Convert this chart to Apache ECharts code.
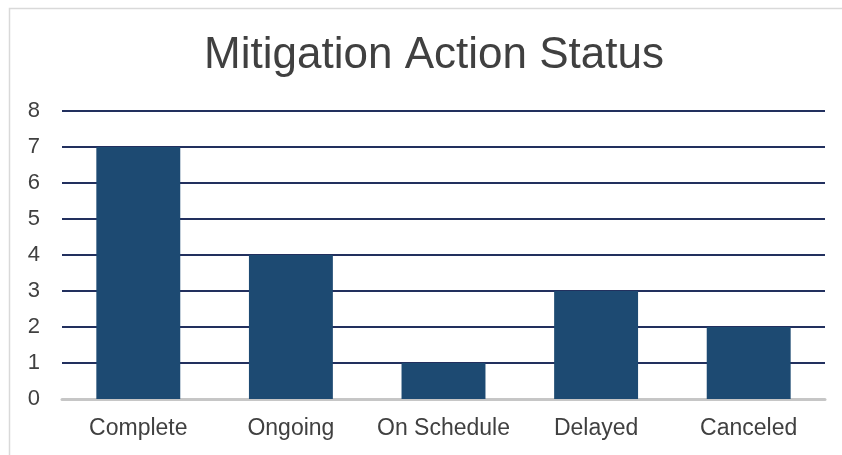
<!DOCTYPE html>
<html>
<head>
<meta charset="utf-8">
<script src="https://cdn.jsdelivr.net/npm/echarts@6/dist/echarts.min.js"></script>
<style>
  html, body { margin: 0; padding: 0; background: #fff; }
  #chart { width: 842px; height: 455px; }
</style>
</head>
<body>
<div id="chart"></div>
<script>
const categories = ['Complete', 'Ongoing', 'On Schedule', 'Delayed', 'Canceled']
const counts = [7, 4, 1, 3, 2]
const yTicks = { min: 0, max: 8, interval: 1 }

const textColor = '#404040'
const font = '"Liberation Sans", Arial, sans-serif'

const myChart = echarts.init(document.getElementById('chart'), null, { renderer: 'canvas' })

const option = {
  animation: false,
  backgroundColor: '#fff',
  title: {
    text: 'Mitigation Action Status',
    left: 429,
    textAlign: 'center',
    top: 29,
    textStyle: {
      color: textColor,
      fontFamily: font,
      fontWeight: 'normal',
      fontSize: 44
    }
  },
  // chart area frame (outer border of the original)
  graphic: [{
    type: 'rect',
    shape: { x: 9.5, y: 8.5, width: 900, height: 500 },
    style: { fill: 'none', stroke: '#d9d9d9', lineWidth: 1.5 },
    silent: true
  }],
  grid: {
    left: 62,
    right: 17,
    top: 111,
    bottom: 56
  },
  xAxis: {
    type: 'category',
    data: categories,
    axisTick: { show: false },
    axisLine: { lineStyle: { color: '#c6c6c6', width: 3 } },
    axisLabel: {
      color: textColor,
      fontFamily: font,
      fontSize: 23,
      margin: 18,
      interval: 0
    }
  },
  yAxis: {
    type: 'value',
    min: yTicks.min,
    max: yTicks.max,
    interval: yTicks.interval,
    axisLine: { show: false },
    axisTick: { show: false },
    axisLabel: {
      color: textColor,
      fontFamily: font,
      fontSize: 22,
      margin: 22
    },
    splitLine: {
      lineStyle: { color: '#22305e', width: 2 }
    }
  },
  series: [{
    type: 'bar',
    data: counts,
    barWidth: '55%',
    itemStyle: { color: '#1d4a72' }
  }]
}

myChart.setOption(option)
</script>
</body>
</html>
